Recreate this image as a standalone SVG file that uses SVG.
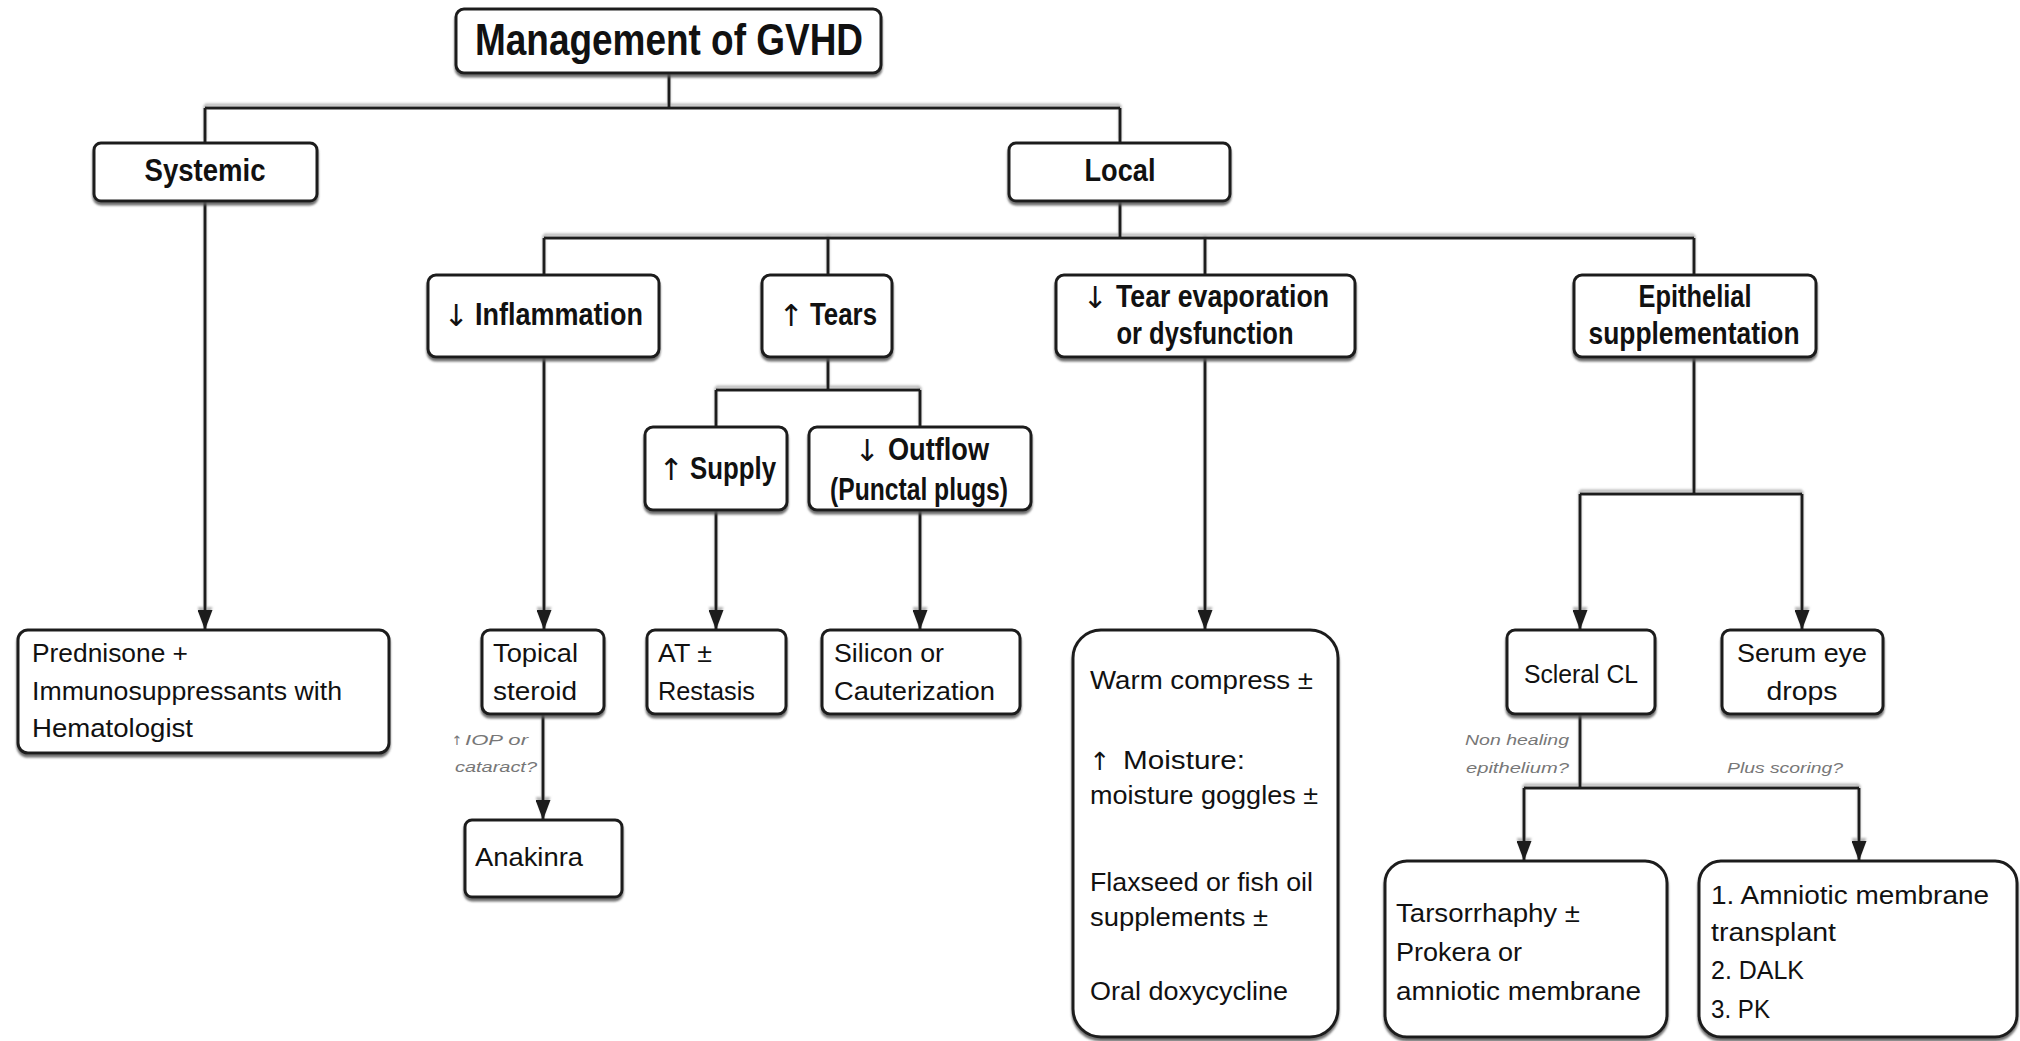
<svg xmlns="http://www.w3.org/2000/svg" width="2020" height="1041" viewBox="0 0 2020 1041">
<defs>
<filter id="sh" x="-5%" y="-10%" width="110%" height="130%">
<feDropShadow dx="0" dy="3" stdDeviation="1" flood-color="#555" flood-opacity="0.85"/>
</filter>
<filter id="lsh" x="-5%" y="-50%" width="110%" height="200%">
<feDropShadow dx="0" dy="-3" stdDeviation="0.8" flood-color="#999" flood-opacity="0.7"/>
</filter>
<marker id="arr" viewBox="0 0 20 15" markerWidth="20" markerHeight="15" refX="20" refY="7.5" orient="auto" markerUnits="userSpaceOnUse">
<path d="M0,0 L20,7.5 L0,15 z" fill="#1e1e1e"/>
</marker>
</defs>
<style>
.box{fill:#fff;stroke:#1e1e1e;stroke-width:3;filter:url(#sh)}
.ln{fill:none;stroke:#1e1e1e;stroke-width:3}
.ar{marker-end:url(#arr)}
text{font-family:"Liberation Sans",Arial,sans-serif;fill:#111}
.ttl{font-size:45px;font-weight:bold;text-anchor:middle}
.hb{font-size:32px;font-weight:bold;text-anchor:middle}
.hl{font-size:32px;font-weight:bold}
.tx{font-size:25px}
.tc{font-size:25px;text-anchor:middle}
.lb{font-size:15px;font-style:italic;fill:#777}
.aw{font-family:"DejaVu Sans",sans-serif;font-weight:normal;text-anchor:middle;font-size:30px}
</style>
<rect width="2020" height="1041" fill="#fff"/>
<g id="connectors" filter="url(#lsh)">
<path class="ln" d="M669,73 V108 M205,108 H1120 M205,108 V143 M1120,108 V143"/>
<path class="ln ar" d="M205,201 V630"/>
<path class="ln" d="M1120,201 V238 M544,238 H1694 M544,238 V275 M828,238 V275 M1205,238 V275 M1694,238 V275"/>
<path class="ln ar" d="M544,357 V630"/>
<path class="ln" d="M828,357 V390 M716,390 H920 M716,390 V427 M920,390 V427"/>
<path class="ln ar" d="M716,510 V630"/>
<path class="ln ar" d="M920,510 V630"/>
<path class="ln ar" d="M543,714 V820"/>
<path class="ln ar" d="M1205,357 V630"/>
<path class="ln" d="M1694,357 V494 M1580,494 H1802"/>
<path class="ln ar" d="M1580,494 V630"/>
<path class="ln ar" d="M1802,494 V630"/>
<path class="ln" d="M1580,714 V788 M1524,788 H1859"/>
<path class="ln ar" d="M1524,788 V861"/>
<path class="ln ar" d="M1859,788 V861"/>
</g>
<g id="labels">
<text class="aw" x="457" y="745" style="font-size:13px;fill:#777">↑</text>
<text class="lb" x="465" y="745" textLength="63" lengthAdjust="spacingAndGlyphs">IOP or</text>
<text class="lb" x="455" y="772" textLength="82" lengthAdjust="spacingAndGlyphs">cataract?</text>
<text class="lb" x="1569" y="745" text-anchor="end" textLength="104" lengthAdjust="spacingAndGlyphs">Non healing</text>
<text class="lb" x="1569" y="773" text-anchor="end" textLength="103" lengthAdjust="spacingAndGlyphs">epithelium?</text>
<text class="lb" x="1727" y="773" textLength="116" lengthAdjust="spacingAndGlyphs">Plus scoring?</text>
</g>
<g id="title">
<rect class="box" x="456" y="9" width="425" height="64" rx="8"/>
<text class="ttl" x="669" y="55" textLength="388" lengthAdjust="spacingAndGlyphs">Management of GVHD</text>
</g>
<g id="systemic">
<rect class="box" x="94" y="143" width="223" height="58" rx="7"/>
<text class="hb" x="205" y="181" textLength="121" lengthAdjust="spacingAndGlyphs">Systemic</text>
</g>
<g id="local">
<rect class="box" x="1009" y="143" width="221" height="58" rx="7"/>
<text class="hb" x="1120" y="181" textLength="71" lengthAdjust="spacingAndGlyphs">Local</text>
</g>
<g id="inflammation">
<rect class="box" x="428" y="275" width="231" height="82" rx="8"/>
<text class="aw" x="456" y="326">↓</text>
<text class="hl" x="475" y="325" textLength="168" lengthAdjust="spacingAndGlyphs">Inflammation</text>
</g>
<g id="tears">
<rect class="box" x="762" y="275" width="130" height="82" rx="8"/>
<text class="aw" x="791" y="326">↑</text>
<text class="hl" x="810" y="325" textLength="67" lengthAdjust="spacingAndGlyphs">Tears</text>
</g>
<g id="tear-evaporation">
<rect class="box" x="1056" y="275" width="299" height="82" rx="8"/>
<text class="aw" x="1095" y="308">↓</text>
<text class="hl" x="1116" y="307" textLength="213" lengthAdjust="spacingAndGlyphs">Tear evaporation</text>
<text class="hb" x="1205" y="344" textLength="177" lengthAdjust="spacingAndGlyphs">or dysfunction</text>
</g>
<g id="epithelial">
<rect class="box" x="1574" y="275" width="242" height="82" rx="8"/>
<text class="hb" x="1695" y="307" textLength="113" lengthAdjust="spacingAndGlyphs">Epithelial</text>
<text class="hb" x="1694" y="344" textLength="211" lengthAdjust="spacingAndGlyphs">supplementation</text>
</g>
<g id="supply">
<rect class="box" x="645" y="427" width="142" height="83" rx="8"/>
<text class="aw" x="671" y="480">↑</text>
<text class="hl" x="690" y="479" textLength="86" lengthAdjust="spacingAndGlyphs">Supply</text>
</g>
<g id="outflow">
<rect class="box" x="809" y="427" width="222" height="83" rx="8"/>
<text class="aw" x="867" y="461">↓</text>
<text class="hl" x="888" y="460" textLength="101" lengthAdjust="spacingAndGlyphs">Outflow</text>
<text class="hb" x="919" y="500" textLength="178" lengthAdjust="spacingAndGlyphs">(Punctal plugs)</text>
</g>
<g id="prednisone">
<rect class="box" x="18" y="630" width="371" height="123" rx="10"/>
<text class="tx" x="32" y="662" textLength="156" lengthAdjust="spacingAndGlyphs">Prednisone +</text>
<text class="tx" x="32" y="700" textLength="310" lengthAdjust="spacingAndGlyphs">Immunosuppressants with</text>
<text class="tx" x="32" y="737" textLength="161" lengthAdjust="spacingAndGlyphs">Hematologist</text>
</g>
<g id="topical-steroid">
<rect class="box" x="482" y="630" width="122" height="84" rx="8"/>
<text class="tx" x="493" y="662" textLength="85" lengthAdjust="spacingAndGlyphs">Topical</text>
<text class="tx" x="493" y="700" textLength="84" lengthAdjust="spacingAndGlyphs">steroid</text>
</g>
<g id="anakinra">
<rect class="box" x="465" y="820" width="157" height="77" rx="7"/>
<text class="tx" x="475" y="866" textLength="108" lengthAdjust="spacingAndGlyphs">Anakinra</text>
</g>
<g id="at-restasis">
<rect class="box" x="647" y="630" width="139" height="84" rx="8"/>
<text class="tx" x="658" y="662" textLength="54" lengthAdjust="spacingAndGlyphs">AT ±</text>
<text class="tx" x="658" y="700" textLength="97" lengthAdjust="spacingAndGlyphs">Restasis</text>
</g>
<g id="silicon">
<rect class="box" x="822" y="630" width="198" height="84" rx="8"/>
<text class="tx" x="834" y="662" textLength="110" lengthAdjust="spacingAndGlyphs">Silicon or</text>
<text class="tx" x="834" y="700" textLength="161" lengthAdjust="spacingAndGlyphs">Cauterization</text>
</g>
<g id="warm-compress">
<rect class="box" x="1073" y="630" width="265" height="407" rx="28"/>
<text class="tx" x="1090" y="689" textLength="223" lengthAdjust="spacingAndGlyphs">Warm compress ±</text>
<text class="aw" x="1100" y="770" style="font-size:25px">↑</text>
<text class="tx" x="1123" y="769" textLength="122" lengthAdjust="spacingAndGlyphs">Moisture:</text>
<text class="tx" x="1090" y="804" textLength="228" lengthAdjust="spacingAndGlyphs">moisture goggles ±</text>
<text class="tx" x="1090" y="891" textLength="223" lengthAdjust="spacingAndGlyphs">Flaxseed or fish oil</text>
<text class="tx" x="1090" y="926" textLength="178" lengthAdjust="spacingAndGlyphs">supplements ±</text>
<text class="tx" x="1090" y="1000" textLength="198" lengthAdjust="spacingAndGlyphs">Oral doxycycline</text>
</g>
<g id="scleral-cl">
<rect class="box" x="1507" y="630" width="148" height="84" rx="8"/>
<text class="tc" x="1581" y="683" textLength="114" lengthAdjust="spacingAndGlyphs">Scleral CL</text>
</g>
<g id="serum-eye-drops">
<rect class="box" x="1722" y="630" width="161" height="84" rx="8"/>
<text class="tc" x="1802" y="662" textLength="130" lengthAdjust="spacingAndGlyphs">Serum eye</text>
<text class="tc" x="1802" y="700" textLength="71" lengthAdjust="spacingAndGlyphs">drops</text>
</g>
<g id="tarsorrhaphy">
<rect class="box" x="1385" y="861" width="282" height="176" rx="22"/>
<text class="tx" x="1396" y="922" textLength="184" lengthAdjust="spacingAndGlyphs">Tarsorrhaphy ±</text>
<text class="tx" x="1396" y="961" textLength="126" lengthAdjust="spacingAndGlyphs">Prokera or</text>
<text class="tx" x="1396" y="1000" textLength="245" lengthAdjust="spacingAndGlyphs">amniotic membrane</text>
</g>
<g id="amniotic">
<rect class="box" x="1699" y="861" width="318" height="176" rx="22"/>
<text class="tx" x="1711" y="904" textLength="278" lengthAdjust="spacingAndGlyphs">1. Amniotic membrane</text>
<text class="tx" x="1711" y="941" textLength="125" lengthAdjust="spacingAndGlyphs">transplant</text>
<text class="tx" x="1711" y="979" textLength="93" lengthAdjust="spacingAndGlyphs">2. DALK</text>
<text class="tx" x="1711" y="1018" textLength="59" lengthAdjust="spacingAndGlyphs">3. PK</text>
</g>
</svg>
